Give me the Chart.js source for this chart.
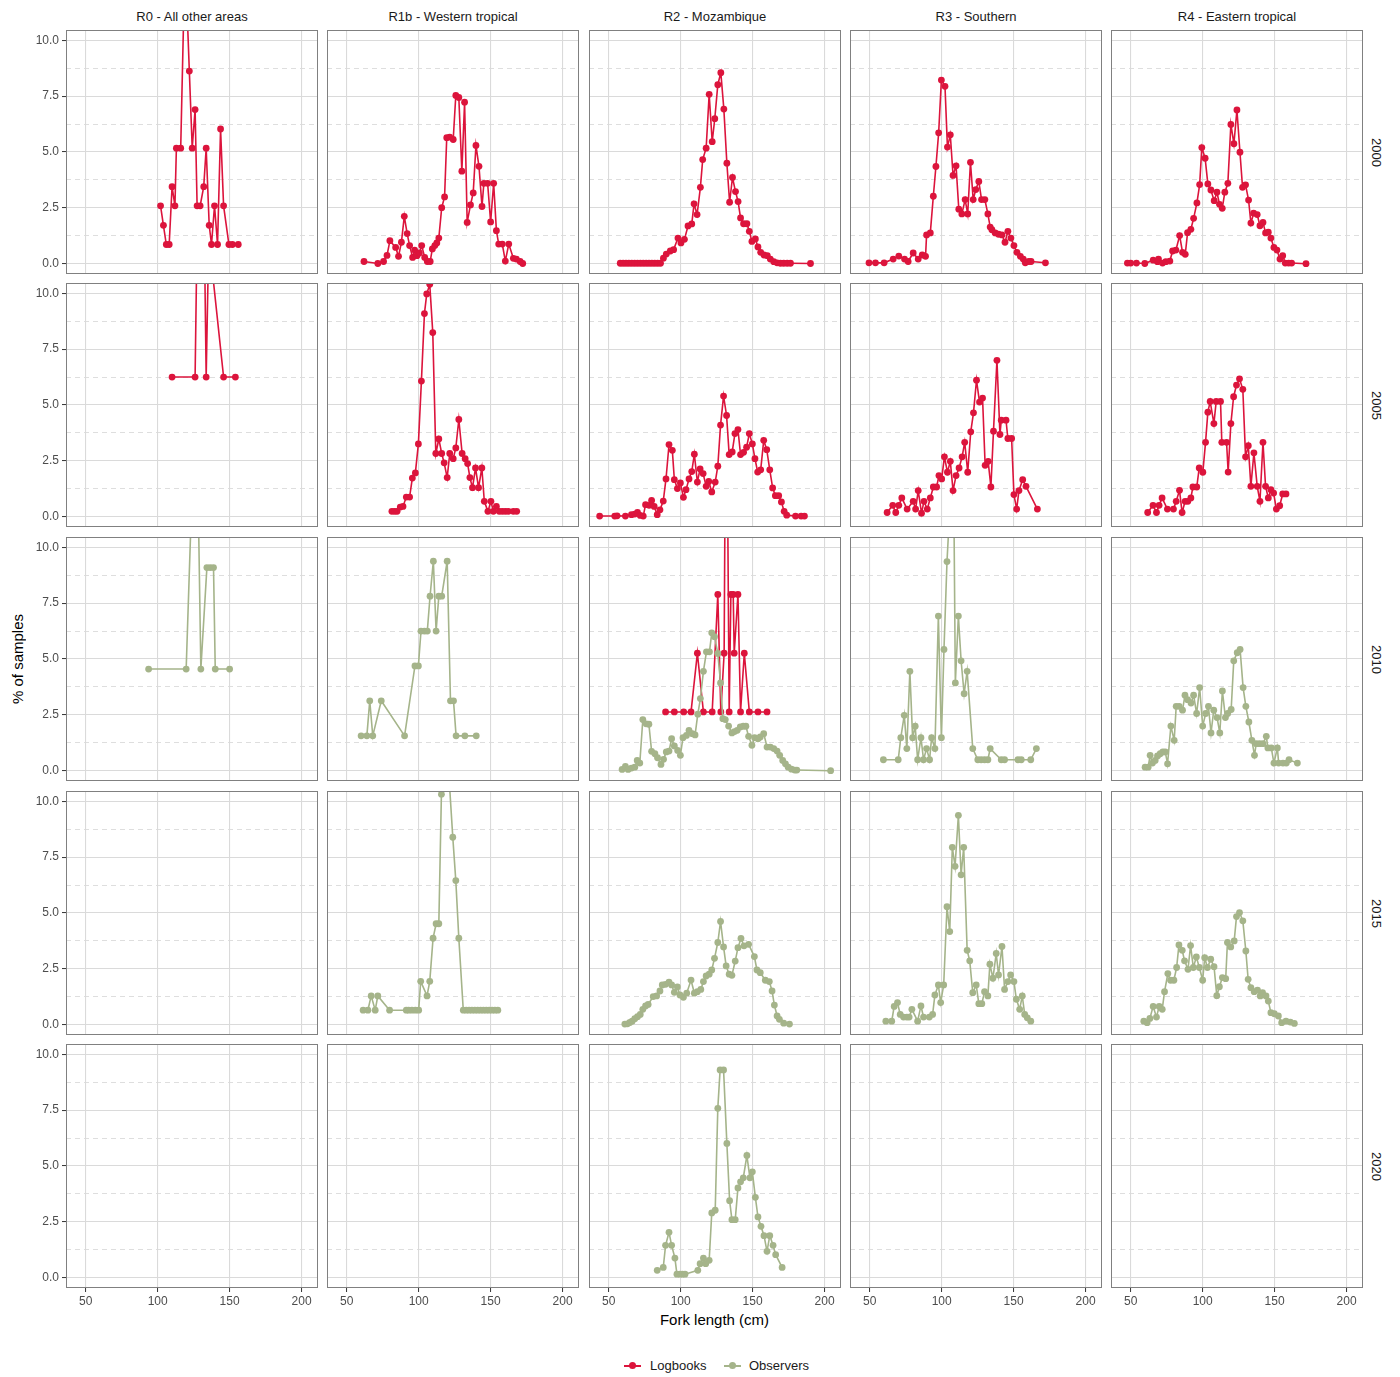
<!DOCTYPE html>
<html>
<head>
<meta charset="utf-8">
<script src="https://cdn.jsdelivr.net/npm/chart.js@4.4.1/dist/chart.umd.min.js"></script>
<style>
  html, body { margin: 0; padding: 0; background: #fff; }
  body { width: 1400px; height: 1377px; position: relative; overflow: hidden;
         font-family: "Liberation Sans", Arial, sans-serif; }
  canvas { position: absolute; }
  .strip-top { position: absolute; top: 8px; height: 18px; line-height: 18px; text-align: center;
               font-size: 13px; color: #1a1a1a; white-space: nowrap; }
  .strip-right { position: absolute; left: 1366px; width: 20px; display: flex;
                 align-items: center; justify-content: center; font-size: 13px; color: #1a1a1a; }
  .strip-right span { writing-mode: vertical-rl; }
  .y-title { position: absolute; left: 6px; width: 22px; top: 30px; height: 1258px; display: flex;
             align-items: center; justify-content: center; font-size: 15px; color: #000; }
  .y-title span { writing-mode: vertical-rl; transform: rotate(180deg); }
  .x-title { position: absolute; left: 0; width: 1429px; top: 1311px; text-align: center;
             font-size: 15px; color: #000; }
  .legend-text { position: absolute; top: 1358px; font-size: 13px; color: #1a1a1a; }
  .legend-line { position: absolute; top: 1365px; width: 17px; height: 2px; }
  .legend-dot { position: absolute; top: 1362px; width: 7px; height: 7px; border-radius: 50%; }
</style>
</head>
<body>
<div id="strips"></div>
<div class="y-title"><span>% of samples</span></div>
<div class="x-title">Fork length (cm)</div>
<div class="legend-line" style="left:624px;background:#DC143C"></div>
<div class="legend-dot" style="left:629px;background:#DC143C"></div>
<div class="legend-text" style="left:650px">Logbooks</div>
<div class="legend-line" style="left:724px;background:#A5B48A"></div>
<div class="legend-dot" style="left:729px;background:#A5B48A"></div>
<div class="legend-text" style="left:749px">Observers</div>

<script>
/* ── Données ───────────────────────────────────────────────── */

const regions = ["R0 - All other areas", "R1b - Western tropical", "R2 - Mozambique", "R3 - Southern", "R4 - Eastern tropical"];
const years   = ["2000", "2005", "2010", "2015", "2020"];
const xTicks  = [50, 100, 150, 200];
const yTicks  = [0, 1.25, 2.5, 3.75, 5, 6.25, 7.5, 8.75, 10];

// 2000 - logbooks
const r0_2000_lb_len  = [102,104,106,108,110,112,113,116,119,122,124,126,127.4,129.5,132,133.7,135.8,137.4,139.5,141.6,143.7,145.8,149.5,151.9,156];
const r0_2000_lb_pct  = [2.59,1.72,0.86,0.86,3.45,2.59,5.17,5.17,13.79,8.62,5.17,6.9,2.59,2.59,3.45,5.17,1.72,0.86,2.59,0.86,6.03,2.59,0.86,0.86,0.86];
const r1b_2000_lb_len = [62,71.6,75.6,78,80,84,86,88,90,92,93.7,95.8,97.2,98.8,100.5,102.1,104.2,106,108,109.5,111.2,112.6,114,116,118,119.5,121.6,124,125.8,127.9,130,131.9,133.7,136,137.9,139.8,141.9,144,145.3,147.9,150,152.1,154,155.6,158.1,160.2,162.6,165.8,167.9,170.5,172.3];
const r1b_2000_lb_pct = [0.1,0.01,0.1,0.37,1.03,0.73,0.33,0.96,2.12,1.35,0.81,0.28,0.61,0.36,0.48,0.81,0.28,0.1,0.1,0.66,0.81,0.93,1.15,2.51,2.99,5.64,5.67,5.56,7.53,7.44,4.14,7.23,1.85,2.63,3.17,5.29,4.36,2.56,3.6,3.6,1.87,3.6,1.48,0.88,0.88,0.12,0.88,0.24,0.21,0.1,0.01];
const r2_2000_lb_len  = [58,60,62,64,66,68,70,72,74,76,78,80,82,84,86,88,90,92.8,95.1,98.1,100.2,102.6,105.1,107.7,109.3,111.4,113.7,115.3,117.7,119.8,121.9,123.7,125.8,127.9,130,132.1,134,136,138.1,139.9,141.6,143.7,146,147.7,149.5,151.9,153.7,155.6,157.9,160.2,162.3,164.7,167,169.3,171.6,174,176.3,190.2];
const r2_2000_lb_pct  = [0.02,0.02,0.02,0.02,0.02,0.02,0.02,0.02,0.02,0.02,0.02,0.02,0.02,0.02,0.02,0.25,0.43,0.57,0.63,1.15,0.93,1.09,1.69,1.78,2.68,2.2,3.42,4.66,5.17,7.58,5.46,6.49,8.01,8.55,6.92,4.5,2.75,3.86,3.23,2.78,2.05,1.79,1.79,1.45,1.0,1.11,0.75,0.51,0.39,0.36,0.21,0.09,0.04,0.02,0.02,0.02,0.02,0.01];
const r3_2000_lb_len  = [49.5,54,60,66.3,70.2,74.2,76.7,80.2,83.7,86.5,88.8,89.5,92.1,94.2,96,97.9,99.8,102.3,104,106,107.9,110,111.9,114,116.3,118.1,120,121.9,123.7,125.8,127.7,130,132.1,133.7,134.9,137.2,139.5,141.9,144,146,148.1,150.2,152.3,154.7,156.7,158.1,160.5,162.1,172.1];
const r3_2000_lb_pct  = [0.04,0.04,0.04,0.21,0.34,0.21,0.1,0.48,0.21,0.39,0.33,1.29,1.38,3.02,4.35,5.86,8.22,7.94,5.22,5.77,3.95,4.38,2.44,2.23,2.87,2.23,4.54,2.87,3.32,3.68,2.87,2.87,2.23,1.64,1.52,1.38,1.32,1.29,0.96,1.45,1.15,0.81,0.51,0.33,0.21,0.04,0.1,0.1,0.04];
const r4_2000_lb_len  = [47.7,50,54,59.8,65.6,68.6,69.3,72.1,74.4,77.2,79.1,81.4,84,86,87.9,89.5,91.8,93.7,96,97.9,99.4,101.7,103.6,105.7,108,109.9,111.7,113.6,115.4,117.5,119.6,121.7,123.8,125.9,127.7,129.8,131.9,133.5,135.4,137.9,139.8,141.9,143.7,145.6,147.4,149.5,151.6,153.7,155.6,157.4,159.7,161.8,171.8];
const r4_2000_lb_pct  = [0.03,0.03,0.03,0.01,0.16,0.09,0.21,0.03,0.09,0.12,0.57,0.61,1.26,0.51,0.42,1.39,1.54,2.03,2.72,3.54,5.2,4.72,3.57,3.3,2.82,3.2,2.66,2.48,3.2,3.6,6.23,5.37,6.88,4.99,3.42,3.53,2.85,1.82,2.26,2.2,1.7,1.85,1.38,1.41,1.15,0.73,0.61,0.21,0.36,0.03,0.03,0.03,0.0];

// 2005 - logbooks
const r0_2005_lb_len  = [110,126,130,133.7,135.5,145.8,154];
const r0_2005_lb_pct  = [6.25,6.25,25,6.25,12.5,6.25,6.25];
const r1b_2005_lb_len = [81.4,83.3,85,87.2,89.1,91.4,93.7,95.6,97.7,99.8,101.9,104,105.6,107.7,109.8,111.9,114,116,117.7,119.8,121.6,124,125.8,127.9,130.2,132.3,134,135.6,137.4,139.5,141.6,143.9,145.6,148.1,150.2,151.9,154,156,158.1,160.2,162.3,165.8,168.1];
const r1b_2005_lb_pct = [0.24,0.24,0.24,0.43,0.46,0.88,0.88,1.73,1.96,3.26,6.07,9.09,9.97,10.4,8.24,2.83,3.48,2.83,2.41,1.75,2.83,2.6,3.08,4.35,2.83,2.6,2.38,1.75,1.3,2.18,1.3,2.18,0.69,0.24,0.69,0.24,0.46,0.24,0.24,0.24,0.24,0.24,0.24];
const r2_2005_lb_len  = [43.7,54.2,55.8,61.6,65.8,68.1,70,71.9,74,75.6,78.1,79.8,81.6,83.7,85.6,87.9,89.8,91.9,94.2,95.6,97.7,99.8,101.9,103.7,105.8,107.7,109.5,111.6,113.5,115.6,117.7,119.5,121.6,124,125.8,127.7,129.8,131.9,133.7,135.8,137.7,139.8,141.6,143.7,145.8,147.7,149.8,151.6,153.5,155.6,157.7,159.8,161.9,163.9,165.8,168.1,170,171.9,173.7,179.8,183.7,186];
const r2_2005_lb_pct  = [0.03,0.03,0.04,0.03,0.09,0.12,0.19,0.06,0.03,0.54,0.51,0.73,0.46,0.09,0.31,0.7,1.69,3.23,2.97,1.66,1.26,1.51,0.87,1.21,1.69,2.02,2.8,1.55,2.14,1.93,1.36,1.58,1.11,1.55,2.26,4.1,5.4,4.53,2.78,2.9,3.72,3.9,2.78,2.88,3.11,3.72,3.26,2.6,2.0,2.1,3.42,3.0,2.1,1.29,0.94,0.94,0.66,0.24,0.07,0.03,0.03,0.03];
const r3_2005_lb_len  = [62.1,66,68.1,70.2,72.3,76,80.2,81.9,83.7,86,87.7,90,92.1,94.2,96.5,98.1,100,101.9,104,106,107.9,110,112.1,114.2,116,118.1,120.2,122.1,124.2,126.3,128.4,130.2,132.3,134.2,136,138.4,140.5,141.4,144.7,146,148.6,150.2,152.1,153.7,156.3,158.6,166.5];
const r3_2005_lb_pct  = [0.19,0.51,0.19,0.51,0.84,0.34,0.69,0.34,1.17,0.16,0.69,0.34,0.84,1.33,1.33,1.84,1.69,2.68,1.99,2.48,1.17,1.84,2.18,2.68,3.33,1.99,3.8,4.65,6.11,5.13,5.31,2.3,2.48,1.33,3.83,7.0,3.68,4.32,4.32,3.5,3.5,0.99,0.34,1.17,1.66,1.36,0.34];
const r4_2005_lb_len  = [61.8,65.5,67.9,69.7,71.8,75.5,79.7,81.6,83.9,85.7,87.8,89.7,91.8,93.2,95.9,97.6,100.1,102,103.6,105.2,107.8,109.4,112.4,113.3,116.6,117.7,119.6,121.5,123.5,125.6,127.9,129.8,131.7,133.5,135.6,137.9,139.8,141.9,143.7,145.6,147.4,149.3,151.2,153.5,155.6,157.9];
const r4_2005_lb_pct  = [0.19,0.51,0.19,0.51,0.84,0.34,0.34,0.69,1.18,0.19,0.69,0.69,0.84,1.33,1.33,2.18,1.99,3.33,4.68,5.16,4.17,5.16,5.16,3.33,3.33,2.0,4.17,5.37,5.89,6.17,5.7,2.68,3.18,1.36,2.86,1.36,0.69,3.33,1.36,0.84,1.21,1.06,0.34,0.49,1.02,1.02];

// 2010
const r0_2010_obs_len  = [93.7,119.8,126.7,130,134.2,136.5,138.8,140,150];
const r0_2010_obs_pct  = [4.55,4.55,18.18,4.55,9.09,9.09,9.09,4.55,4.55];
const r1b_2010_obs_len = [60,64,66,68.1,74,90.2,97.4,99.8,101.6,104,106,107.9,110.2,112.1,114,116,119.8,122.1,124.2,126,132.1,140];
const r1b_2010_obs_pct = [1.56,1.56,3.13,1.56,3.13,1.56,4.69,4.69,6.25,6.25,6.25,7.81,9.38,6.25,7.81,7.81,9.38,3.13,3.13,1.56,1.56,1.56];
const r2_2010_lb_len   = [89.5,95.6,102.1,107.2,111.6,115.8,121.9,125.8,127.9,130.2,131.6,133.7,134.9,136.5,137.2,139.8,141.6,144.2,147.7,153.7,160];
const r2_2010_lb_pct   = [2.63,2.63,2.63,2.63,5.26,2.63,2.63,7.89,2.63,5.26,21.05,2.63,7.89,7.89,5.26,7.89,2.63,5.26,2.63,2.63,2.63];
const r2_2010_obs_len  = [59.3,61.6,63.5,65.8,68.1,69.8,71.6,73.7,76,77.9,79.8,82.1,83.9,86.3,88.1,90,91.9,93.7,95.6,97.9,99.8,101.6,104,105.8,108.1,110,111.9,113.7,115.8,117.9,120,121.6,123.5,125.8,127.7,129.3,131,133.3,135.6,137.4,139.3,141.4,143.5,145.3,147.2,149.5,151.4,153.7,155.3,157.7,160,162.3,164.7,167,168.8,170.9,172.8,174.7,177,179.3,180.7,204.2];
const r2_2010_obs_pct  = [0.06,0.19,0.06,0.12,0.16,0.46,0.34,2.29,2.1,2.08,0.87,0.76,0.58,0.28,0.51,0.84,0.88,1.43,1.11,0.91,0.69,1.48,1.58,1.81,1.66,1.6,2.53,3.23,4.45,5.32,5.32,6.17,6.0,5.25,3.93,2.33,2.29,2.0,1.69,1.75,1.81,1.96,1.99,1.99,1.54,1.14,1.48,1.43,1.51,1.66,1.06,1.06,0.99,0.88,0.69,0.46,0.31,0.16,0.07,0.03,0.03,0.0];
const r3_2010_obs_len  = [59.5,69.8,71.6,74,75.8,77.9,79.8,81.6,83.3,85.6,87.4,89.5,91.6,93,95.3,97.7,99.8,101.6,103.7,108.1,109.5,111.6,113.5,115.6,117.7,121.6,125.1,127.4,129.8,132.1,133.7,141.4,143.7,153,155.3,161.9,165.8];
const r3_2010_obs_pct  = [0.49,0.49,1.48,2.48,0.99,4.45,1.48,1.99,0.49,1.48,0.49,0.99,0.49,1.48,0.99,6.92,1.48,5.43,9.36,14.78,3.93,6.92,4.92,3.45,4.45,0.99,0.49,0.49,0.49,0.49,0.99,0.49,0.49,0.49,0.49,0.49,0.99];
const r4_2010_obs_len  = [60,62.1,63.5,65.1,67,68.6,70.5,72.3,74,75.6,77.9,80.2,81.6,83.7,86,87.7,89.5,91.9,93.7,95.8,97.9,100,102.1,104,105.8,107.7,110,111.9,113.7,115.8,117.4,119.8,121.6,124,126,128.1,130,132.1,134.2,136,137.2,139.5,141.9,144.2,145.3,147.7,149.5,151.9,152.8,155.8,158.1,160,165.8];
const r4_2010_obs_pct  = [0.16,0.16,0.69,0.34,0.46,0.66,0.76,0.84,0.84,0.31,2.0,1.36,2.88,2.88,2.71,3.38,3.18,3.03,3.38,2.56,3.72,2.0,2.56,2.88,1.69,2.71,2.38,1.69,3.57,2.38,2.56,2.74,4.92,5.28,5.43,3.72,2.88,2.18,1.36,0.69,1.21,1.21,1.21,1.54,1.02,1.02,0.34,1.02,0.34,0.34,0.34,0.49,0.34];

// 2015 - observers
const r1b_2015_obs_len = [61.4,64.7,67,69.8,71.6,79.8,91.4,93,95.3,97.7,100,101.4,105.8,107.7,110,112.1,114,115.8,119.3,123.7,125.8,127.9,131,133,135,137,139,141,143,145,147,149,151,153,155];
const r1b_2015_obs_pct = [0.65,0.65,1.29,0.65,1.29,0.65,0.65,0.65,0.65,0.65,0.65,1.94,1.29,1.94,3.87,4.52,4.52,10.32,12.9,8.39,6.45,3.87,0.65,0.65,0.65,0.65,0.65,0.65,0.65,0.65,0.65,0.65,0.65,0.65,0.65];
const r2_2015_obs_len  = [61.2,63,64.7,66.3,68.1,70,71.9,73.7,75.6,77.4,80.9,83.3,85.6,87.2,89.5,91.9,93.7,95.6,97.7,99.5,101.9,104.2,107.2,109.5,111.6,114,115.8,117.7,119.8,121.6,123.5,125.8,127.7,129.8,131.6,133.7,135.6,137.9,139.8,141.9,144,147.2,151.2,153,155.3,158.8,161.6,163.5,165.1,167,168.6,171.6,175.6];
const r2_2015_obs_pct  = [0.03,0.04,0.1,0.16,0.27,0.36,0.46,0.69,0.84,0.91,1.26,1.29,1.51,1.78,1.81,1.9,1.78,1.45,1.69,1.33,1.23,1.41,2.0,1.41,1.48,1.58,1.93,2.18,2.26,2.45,2.97,3.68,4.62,3.48,2.63,2.26,2.21,2.85,3.45,3.86,3.53,3.6,3.05,2.45,2.33,1.99,1.93,1.51,0.88,0.39,0.24,0.07,0.03];
const r3_2015_obs_len  = [61.2,65.3,67,69.3,71.2,73.5,75.8,77.4,79.3,83.3,85.6,87.4,91.4,93.7,95.3,97.7,99.3,101.4,103.7,105.6,107.4,109.3,111.6,113.5,115.3,117.7,119.5,121.6,124,125.8,127.9,129.8,132.1,133.5,135.6,137.9,139.5,141.9,143.7,146,147.9,150.2,151.9,154.2,156,157.7,159.5,161.9];
const r3_2015_obs_pct  = [0.16,0.16,0.82,0.99,0.46,0.34,0.34,0.34,0.69,0.16,0.84,0.34,0.34,0.46,1.33,1.78,0.99,1.78,5.28,4.17,7.94,7.09,9.37,6.71,7.94,3.33,2.86,1.43,1.78,0.94,0.94,1.48,1.29,2.71,2.08,3.19,2.23,3.5,1.58,1.93,2.23,1.93,1.14,0.69,1.29,0.46,0.31,0.16];
const r4_2015_obs_len  = [59.1,61.4,63.3,65.6,67.9,69.8,71.9,73.5,75.8,77.7,80,81.9,83.5,85.8,87.4,89.8,91.6,93.5,95.6,97.7,100,101.4,103.3,105.6,107.9,109.8,111.6,113.7,116,117.2,119.5,121.9,123.5,125.6,127.9,130,131.6,133.5,135.8,138.1,140,141.6,144,145.6,147.4,149.8,152.6,154.9,157.9,160.9,163.7];
const r4_2015_obs_pct  = [0.16,0.09,0.28,0.82,0.34,0.82,0.69,1.48,2.29,1.99,1.99,2.56,3.57,3.33,2.86,2.48,3.54,2.56,3.03,2.56,1.99,3.0,2.56,2.93,2.6,1.3,1.7,2.11,2.06,3.68,3.48,3.75,4.84,5.02,4.65,3.3,2.03,1.66,1.48,1.55,1.29,1.43,1.29,1.06,0.54,0.49,0.39,0.09,0.16,0.12,0.06];

// 2020 - observers
const r2_2020_obs_len  = [83.7,87.9,89.5,91.9,93.7,96,97.4,99.5,101.2,103,111.9,113.5,115.8,117.4,119.8,121.6,124,125.8,127.4,129.8,132.1,134,135.6,137.9,139.8,141.6,143.5,146,148.1,149.8,151.9,153.7,155.8,157.9,160,161.9,164.2,166,170.5];
const r2_2020_obs_pct  = [0.33,0.46,1.45,2.03,1.45,0.88,0.16,0.16,0.16,0.16,0.33,0.63,0.88,0.63,0.78,2.9,3.02,7.58,9.3,9.3,6.01,3.45,2.6,2.6,4.02,4.29,4.47,5.47,4.47,4.74,3.6,2.72,2.3,1.88,1.18,1.88,1.45,1.03,0.46];

/* ── Mise en page ──────────────────────────────────────────── */

const FONT           = "'Liberation Sans', Arial, sans-serif";
const LOGBOOK_COLOR  = "#DC143C";
const OBSERVER_COLOR = "#A5B48A";
const GRID_COLOR     = "#DADADA";

const PANEL_LEFT = [66, 327, 589, 850, 1111];
const PANEL_TOP  = [30, 283, 537, 791, 1044];
const PANEL_W    = 252;
const PANEL_H    = 244;
const Y_AXIS_W   = 50;
const X_AXIS_H   = 22;

const X_MIN = 36.3, X_MAX = 211.4;
const Y_MIN = -0.46, Y_MAX = 10.46;

// "ligne-colonne" -> séries
const panelSeries = {
    "0-0": { lb: [r0_2000_lb_len, r0_2000_lb_pct] },
    "0-1": { lb: [r1b_2000_lb_len, r1b_2000_lb_pct] },
    "0-2": { lb: [r2_2000_lb_len, r2_2000_lb_pct] },
    "0-3": { lb: [r3_2000_lb_len, r3_2000_lb_pct] },
    "0-4": { lb: [r4_2000_lb_len, r4_2000_lb_pct] },
    "1-0": { lb: [r0_2005_lb_len, r0_2005_lb_pct] },
    "1-1": { lb: [r1b_2005_lb_len, r1b_2005_lb_pct] },
    "1-2": { lb: [r2_2005_lb_len, r2_2005_lb_pct] },
    "1-3": { lb: [r3_2005_lb_len, r3_2005_lb_pct] },
    "1-4": { lb: [r4_2005_lb_len, r4_2005_lb_pct] },
    "2-0": { obs: [r0_2010_obs_len, r0_2010_obs_pct] },
    "2-1": { obs: [r1b_2010_obs_len, r1b_2010_obs_pct] },
    "2-2": { lb: [r2_2010_lb_len, r2_2010_lb_pct], obs: [r2_2010_obs_len, r2_2010_obs_pct] },
    "2-3": { obs: [r3_2010_obs_len, r3_2010_obs_pct] },
    "2-4": { obs: [r4_2010_obs_len, r4_2010_obs_pct] },
    "3-1": { obs: [r1b_2015_obs_len, r1b_2015_obs_pct] },
    "3-2": { obs: [r2_2015_obs_len, r2_2015_obs_pct] },
    "3-3": { obs: [r3_2015_obs_len, r3_2015_obs_pct] },
    "3-4": { obs: [r4_2015_obs_len, r4_2015_obs_pct] },
    "4-2": { obs: [r2_2020_obs_len, r2_2020_obs_pct] },
};

const isMajorY = (v) => Math.abs(v / 2.5 - Math.round(v / 2.5)) < 1e-6;

function makeDataset(label, [len, pct], color, order) {
    return {
        label,
        data: len.map((x, i) => ({ x, y: pct[i] })),
        borderColor: color,
        backgroundColor: color,
        borderWidth: 1.6,
        pointRadius: 3.4,
        pointBorderWidth: 0,
        pointBackgroundColor: color,
        pointHoverRadius: 0,
        tension: 0,
        clip: 0,
        order,
    };
}

const panelBorder = {
    id: "panelBorder",
    afterDraw(chart) {
        const { ctx, chartArea: a } = chart;
        ctx.save();
        ctx.strokeStyle = "#808080";
        ctx.lineWidth = 1;
        ctx.strokeRect(a.left + 0.5, a.top + 0.5, a.width - 1, a.height - 1);
        ctx.restore();
    },
};

function buildPanel(row, col) {
    const isLeft   = col === 0;
    const isBottom = row === 4;
    const s = panelSeries[`${row}-${col}`] || {};

    const datasets = [];
    if (s.obs) datasets.push(makeDataset("Observers", s.obs, OBSERVER_COLOR, 0));
    if (s.lb)  datasets.push(makeDataset("Logbooks",  s.lb,  LOGBOOK_COLOR, 1));

    const canvas = document.createElement("canvas");
    canvas.width  = PANEL_W + (isLeft ? Y_AXIS_W : 0);
    canvas.height = PANEL_H + (isBottom ? X_AXIS_H : 0);
    canvas.style.left = `${PANEL_LEFT[col] - (isLeft ? Y_AXIS_W : 0)}px`;
    canvas.style.top  = `${PANEL_TOP[row]}px`;
    document.body.appendChild(canvas);

    new Chart(canvas, {
        type: "line",
        data: { datasets },
        options: {
            responsive: false,
            animation: false,
            events: [],
            layout: { padding: 0, autoPadding: false },
            plugins: { legend: { display: false }, tooltip: { enabled: false } },
            scales: {
                x: {
                    type: "linear",
                    min: X_MIN,
                    max: X_MAX,
                    afterBuildTicks: (scale) => { scale.ticks = xTicks.map((v) => ({ value: v })); },
                    afterFit: (scale) => {
                        scale.height = isBottom ? X_AXIS_H : 0;
                        scale.paddingLeft = 0;
                        scale.paddingRight = 0;
                    },
                    ticks: {
                        display: isBottom,
                        autoSkip: false,
                        maxRotation: 0,
                        padding: 2,
                        color: "#4D4D4D",
                        font: { family: FONT, size: 12 },
                    },
                    grid: {
                        color: GRID_COLOR,
                        lineWidth: 1.1,
                        drawTicks: isBottom,
                        tickLength: 4,
                        tickColor: "#333333",
                        tickWidth: 1,
                    },
                    border: { display: false },
                },
                y: {
                    type: "linear",
                    min: Y_MIN,
                    max: Y_MAX,
                    afterBuildTicks: (scale) => { scale.ticks = yTicks.map((v) => ({ value: v })); },
                    afterFit: (scale) => {
                        scale.width = isLeft ? Y_AXIS_W : 0;
                        scale.paddingTop = 0;
                        scale.paddingBottom = 0;
                    },
                    ticks: {
                        display: isLeft,
                        autoSkip: false,
                        padding: 3,
                        color: "#4D4D4D",
                        font: { family: FONT, size: 12 },
                        callback: (v) => (isMajorY(v) ? Number(v).toFixed(1) : ""),
                    },
                    grid: {
                        color: GRID_COLOR,
                        lineWidth: (ctx) => (ctx.tick && isMajorY(ctx.tick.value) ? 1.1 : 0.9),
                        drawTicks: isLeft,
                        tickLength: 4,
                        tickWidth: 1,
                        tickColor: (ctx) => (ctx.tick && isMajorY(ctx.tick.value) ? "#333333" : "rgba(0,0,0,0)"),
                    },
                    border: {
                        display: false,
                        dash: (ctx) => (ctx.tick && !isMajorY(ctx.tick.value) ? [5, 4] : []),
                    },
                },
            },
        },
        plugins: [panelBorder],
    });
}

/* ── Bandeaux ──────────────────────────────────────────────── */

const strips = document.getElementById("strips");
regions.forEach((name, c) => {
    const d = document.createElement("div");
    d.className = "strip-top";
    d.style.left  = `${PANEL_LEFT[c]}px`;
    d.style.width = `${PANEL_W}px`;
    d.textContent = name;
    strips.appendChild(d);
});
years.forEach((yr, r) => {
    const d = document.createElement("div");
    d.className = "strip-right";
    d.style.top    = `${PANEL_TOP[r]}px`;
    d.style.height = `${PANEL_H}px`;
    d.innerHTML = `<span>${yr}</span>`;
    strips.appendChild(d);
});

/* ── Init ──────────────────────────────────────────────────── */
for (let r = 0; r < years.length; r++) {
    for (let c = 0; c < regions.length; c++) buildPanel(r, c);
}
</script>
</body>
</html>
